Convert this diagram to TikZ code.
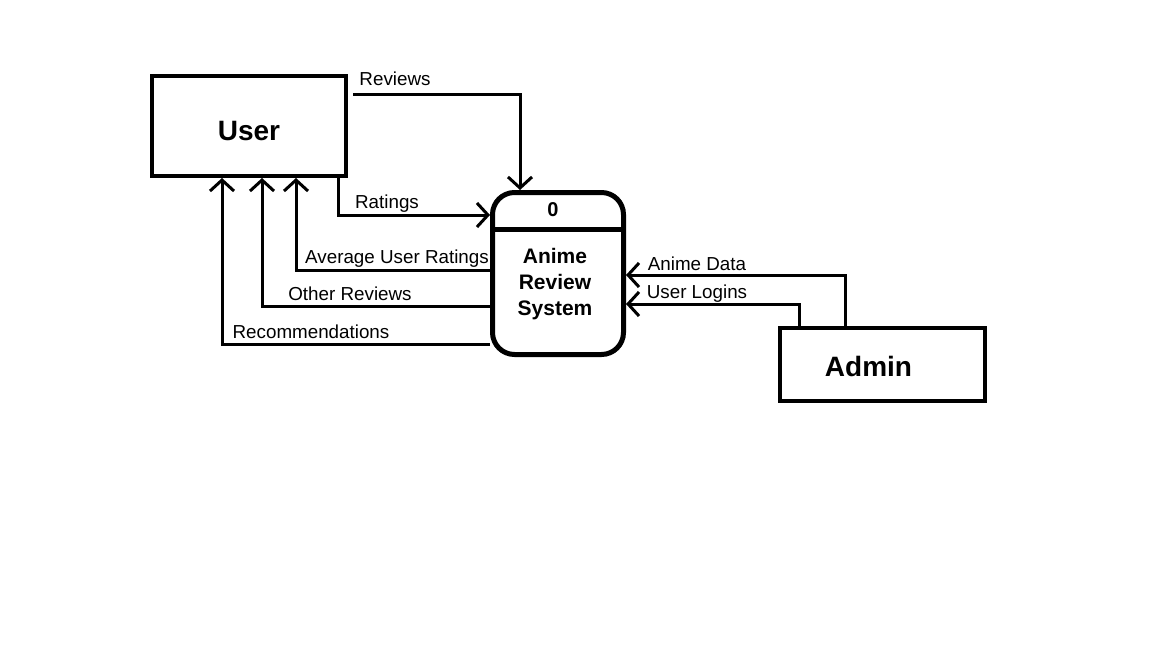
\documentclass[tikz,border=0pt]{standalone}
\usepackage{fontspec}
\setmainfont{Liberation Sans}
\usetikzlibrary{arrows.meta}

\begin{document}
\begin{tikzpicture}[x=0.5pt,y=-0.5pt,
  ent/.style={draw,line width=2pt,inner sep=0pt},
  flow/.style={-{Straight Barb[length=5.5pt,width=12pt]},line width=1.5pt},
  lbl/.style={font=\fontsize{9.4}{11}\selectfont,inner sep=0pt}]
  \useasboundingbox (0,0) rectangle (1152,648);
  \node[ent,minimum width=97pt,minimum height=50pt,
    label={[font=\fontsize{14}{16}\selectfont\bfseries,yshift=-2.5pt]center:User}] (user) at (249,126) {};
  \node[ent,line width=2.5pt,rounded corners=11pt,minimum width=65.5pt,minimum height=81pt,
    label={[font=\fontsize{10}{12}\selectfont\bfseries,xshift=-2.5pt,yshift=31.75pt]center:0},
    label={[font=\fontsize{10.5}{13}\selectfont\bfseries,align=center,xshift=-1.5pt,yshift=-5.25pt]center:Anime\\Review\\System}] (proc) at (558,273.5) {};
  \node[ent,minimum width=102.5pt,minimum height=36.5pt,
    label={[font=\fontsize{14}{16}\selectfont\bfseries,xshift=-7pt,yshift=-1pt]center:Admin}] (admin) at (882.5,364.5) {};
  \draw[line width=2.5pt] (proc.west |- 0,229) -- (proc.east |- 0,229);
  \coordinate (revs) at (353,94);
  \draw[flow] (revs) -| (proc.north -| 520,0);
  \draw[flow] (user.south -| 338,0) |- (proc.west |- 0,215);
  \draw[flow] (proc.west |- 0,270) -| (user.south -| 296,0);
  \draw[flow] (proc.west |- 0,306) -| (user.south -| 262,0);
  \draw[flow] (proc.west |- 0,344) -| (user.south -| 222,0);
  \draw[flow] (admin.north -| 845,0) |- (proc.east |- 0,275);
  \draw[flow] (admin.north -| 799,0) |- (proc.east |- 0,304);
  \node[lbl] (lrev) at (395,79) {Reviews};
  \node[lbl] (lrat) at (387,204) {Ratings};
  \node[lbl] (lavg) at (397,259) {Average User Ratings};
  \node[lbl] (loth) at (350,294) {Other Reviews};
  \node[lbl] (lrec) at (311,332) {Recommendations};
  \node[lbl] (ldat) at (697,264) {Anime Data};
  \node[lbl] (llog) at (697,294) {User Logins};
\end{tikzpicture}
\end{document}
